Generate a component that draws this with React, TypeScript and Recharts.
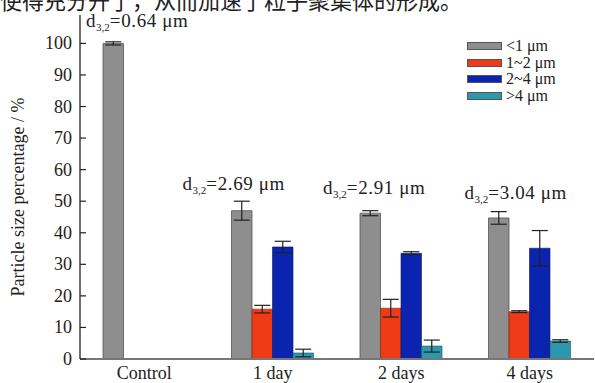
import { BarChart, Bar, XAxis, YAxis, ErrorBar, LabelList } from 'recharts';

const categories = ['Control', '1 day', '2 days', '4 days'];
const below1 = [100, 47, 46.2, 44.7];
const below1Err = [0.5, 3, 0.8, 2];
const from1to2 = [null, 15.8, 16.1, 15.0];
const from1to2Err = [null, 1.2, 2.8, 0.3];
const from2to4 = [null, 35.5, 33.5, 35.1];
const from2to4Err = [null, 1.8, 0.5, 5.6];
const above4 = [null, 1.9, 4.1, 5.7];
const above4Err = [null, 1.2, 1.9, 0.4];
const d32 = ['0.64', '2.69', '2.91', '3.04'];
const yTicks = [0, 10, 20, 30, 40, 50, 60, 70, 80, 90, 100];
const seriesNames = ['<1 μm', '1~2 μm', '2~4 μm', '>4 μm'];

const colors = ['#8e8e8e', '#ee3a17', '#0b24b0', '#2b98ad'];
const serif = '"Liberation Serif", "Times New Roman", serif';

const data = categories.map((name, i) => ({
  name,
  below1: below1[i],
  below1Err: below1Err[i],
  from1to2: from1to2[i],
  from1to2Err: from1to2Err[i],
  from2to4: from2to4[i],
  from2to4Err: from2to4Err[i],
  above4: above4[i],
  above4Err: above4Err[i],
  d32: d32[i],
}));

// where each d3,2 note sits relative to the top of its grey bar
const annoDx = [-17, -49, -37, -24];
const annoDy = [-16, -21, -19, -19];

function D32Label(props: any) {
  const { x, y, index, value } = props;
  return (
    <text
      x={x + annoDx[index]}
      y={y + annoDy[index]}
      fontFamily={serif}
      fontSize={19}
      letterSpacing={0.6}
      fill="#222"
    >
      d
      <tspan dy={4} fontSize={11} letterSpacing={0}>3,2</tspan>
      <tspan dy={-4}>={value} μm</tspan>
    </text>
  );
}

function YTick(props: any) {
  const { x, y, payload } = props;
  return (
    <g>
      <text x={x} y={y} textAnchor="end" dominantBaseline="central" fontFamily={serif} fontSize={18} fill="#222">
        {payload.value}
      </text>
      <line x1={x + 8} x2={x + 14} y1={y} y2={y} stroke="#222" strokeWidth={1.2} />
    </g>
  );
}

export default function App() {
  return (
    <div style={{ position: 'fixed', left: 0, top: 0, width: 595, height: 383, overflow: 'hidden', background: '#fff' }}>
      <div
        style={{
          position: 'absolute',
          left: 0,
          top: -12,
          fontSize: 22,
          lineHeight: 1,
          whiteSpace: 'nowrap',
          fontFamily: '"Noto Sans CJK SC", sans-serif',
          color: '#222',
        }}
      >
        使得充分开了，从而加速了粒子聚集体的形成。
      </div>

      <BarChart
        width={595}
        height={383}
        data={data}
        margin={{ top: 15, right: 1, left: 0, bottom: 0 }}
        barGap={0}
        barSize={20.5}
      >
        <XAxis
          dataKey="name"
          tickLine={false}
          axisLine={{ stroke: '#777', strokeWidth: 2 }}
          tick={{ fontFamily: serif, fontSize: 18, fill: '#222' }}
          tickMargin={1}
          height={24}
        />
        <YAxis
          domain={[0, 109]}
          ticks={yTicks}
          width={80}
          tickSize={0}
          tickMargin={8}
          tickLine={false}
          axisLine={{ stroke: '#222', strokeWidth: 1.3 }}
          tick={<YTick />}
          allowDataOverflow
        />
        <Bar dataKey="below1" name={seriesNames[0]} fill={colors[0]} stroke="#555" strokeWidth={0.8} isAnimationActive={false}>
          <ErrorBar dataKey="below1Err" width={8} stroke="#222" strokeWidth={1.2} direction="y" />
          <LabelList dataKey="d32" content={<D32Label />} />
        </Bar>
        <Bar dataKey="from1to2" name={seriesNames[1]} fill={colors[1]} stroke="#7a2a10" strokeWidth={0.6} isAnimationActive={false}>
          <ErrorBar dataKey="from1to2Err" width={8} stroke="#222" strokeWidth={1.2} direction="y" />
        </Bar>
        <Bar dataKey="from2to4" name={seriesNames[2]} fill={colors[2]} stroke="#0a1560" strokeWidth={0.6} isAnimationActive={false}>
          <ErrorBar dataKey="from2to4Err" width={8} stroke="#222" strokeWidth={1.2} direction="y" />
        </Bar>
        <Bar dataKey="above4" name={seriesNames[3]} fill={colors[3]} stroke="#1d4f5a" strokeWidth={0.6} isAnimationActive={false}>
          <ErrorBar dataKey="above4Err" width={8} stroke="#222" strokeWidth={1.2} direction="y" />
        </Bar>
      </BarChart>

      <svg width={595} height={383} style={{ position: 'absolute', left: 0, top: 0, pointerEvents: 'none' }}>
        <text
          transform="translate(24 197) rotate(-90)"
          textAnchor="middle"
          fontFamily={serif}
          fontSize={18}
          fill="#222"
        >
          Particle size percentage / %
        </text>
      </svg>

      <div style={{ position: 'absolute', left: 467, top: 38, fontFamily: serif, fontSize: 16, color: '#222' }}>
        {seriesNames.map((n, i) => (
          <div key={n} style={{ display: 'flex', alignItems: 'center', height: 16.5 }}>
            <div style={{ width: 35, height: 8, background: colors[i], border: '1px solid #555', boxSizing: 'border-box', marginRight: 4 }} />
            <span style={{ lineHeight: 1 }}>{n}</span>
          </div>
        ))}
      </div>
    </div>
  );
}
